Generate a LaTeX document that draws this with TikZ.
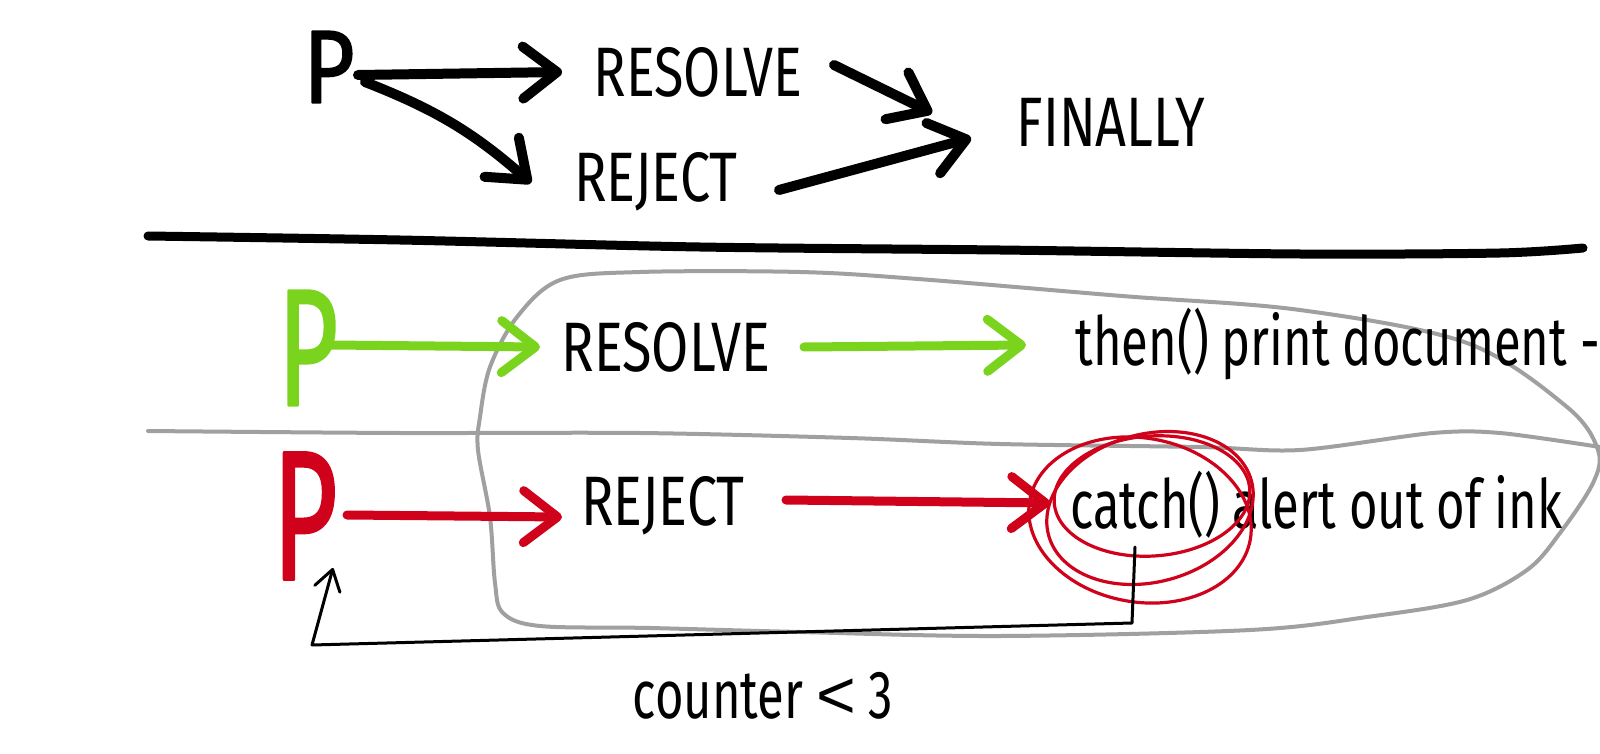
\documentclass[tikz,border=0pt]{standalone}
\usepackage{fontspec}
\setmainfont{Fira Sans}[FakeStretch=0.72]
\newfontfamily\capfont{Fira Sans}[FakeStretch=0.77]
\newfontfamily\pfont{Fira Sans}[FakeBold=1.6]
\newfontfamily\symfont{Liberation Sans}
\usetikzlibrary{arrows.meta, positioning, calc}
\definecolor{pgreen}{RGB}{122,212,30}
\definecolor{pred}{RGB}{208,2,27}
\definecolor{lasso}{RGB}{160,160,160}

\begin{document}
\begin{tikzpicture}[x=0.5pt, y=0.5pt, line cap=round, line join=round,
    lbl/.style={inner sep=0pt, font=\fontsize{34pt}{40pt}\selectfont},
    caplbl/.style={inner sep=0pt, font=\fontsize{35pt}{40pt}\selectfont\capfont},
    bigp/.style={inner sep=0pt, font=\fontsize{52pt}{56pt}\selectfont\pfont},
    inkarr/.style={line width=5pt, -{Straight Barb[length=17pt,width=26pt,round]}},
    thinarr/.style={line width=1.5pt, -{Straight Barb[length=10pt,width=13pt,round]}}]
    \useasboundingbox (0,0) rectangle (1600,-754);

    % top: promise and its outcomes
    \node[bigp] (p1) at (329,-67) {\scalebox{0.85}[1]{P}};
    \node[caplbl] (res1) at (698,-72) {RESOLVE};
    \node[caplbl] (rej1) at (656,-182) {REJECT};
    \node[caplbl] (fin) at (1111,-122) {FINALLY};

    \draw[inkarr] ([shift={(29,-8)}]p1.center) -- ([shift={(-136,0)}]res1.center);
    \draw[inkarr] ([shift={(36,-15)}]p1.center) to[bend left=10] ([shift={(-125,-1)}]rej1.center);
    \draw[inkarr] ([shift={(136,7)}]res1.center) -- ([shift={(-179,9)}]fin.center);
    \draw[inkarr] ([shift={(123,-8)}]rej1.center) -- ([shift={(-140,-16)}]fin.center);

    % divider
    \draw[line width=4.5pt] plot[smooth, tension=0.5] coordinates
      {(148,-236) (400,-240) (700,-247) (1000,-250) (1300,-254) (1500,-253) (1583,-248)};

    % lasso and row split
    \draw[lasso, line width=2pt] plot[smooth cycle, tension=0.55] coordinates
      {(560,-280) (640,-272) (800,-272) (918,-279) (1122,-296) (1300,-310)
       (1467,-343) (1567,-407) (1598,-450) (1593,-483) (1560,-533) (1527,-570)
       (1467,-600) (1367,-617) (1250,-630) (1000,-636) (800,-632) (650,-628)
       (540,-626) (503,-613) (495,-583) (490,-517) (478,-450) (480,-417)
       (490,-367) (517,-317)};
    \draw[lasso, line width=2pt] plot[smooth, tension=0.5] coordinates
      {(148,-431) (400,-433) (640,-433) (850,-438) (1000,-444) (1200,-447)
       (1300,-450) (1433,-433) (1500,-433) (1600,-447)};

    % green row
    \node[bigp, pgreen] (p2) at (308,-348) {\scalebox{1}[1.6]{P}};
    \node[caplbl] (res2) at (666,-347) {RESOLVE};
    \node[lbl, anchor=base west] (then) at (1075,-365) {then() print document -};

    \draw[inkarr, pgreen, line width=4.5pt] ([shift={(22,3)}]p2.center) -- ([shift={(-126,0)}]res2.center);
    \draw[inkarr, pgreen, line width=4.5pt] ([shift={(138,0)}]res2.center) -- ([shift={(-49,20)}]then.base west);

    % red row
    \node[bigp, pred] (p3) at (305,-516) {\scalebox{1.08}[1.77]{P}};
    \node[caplbl] (rej2) at (663,-506) {REJECT};
    \node[lbl, anchor=base west] (catch) at (1070,-528) {catch()};
    \node[lbl, anchor=base west] (alert) at ([xshift=5.6pt]catch.base east) {alert out of ink};

    \draw[inkarr, pred, line width=4.5pt] ([shift={(42,1)}]p3.center) -- ([shift={(-101,-11)}]rej2.center);
    \draw[inkarr, pred, line width=4.5pt] ([shift={(123,6)}]rej2.center) -- ([shift={(-20,25)}]catch.base west);

    % scribbled ring round catch()
    \draw[pred, line width=1.6pt] ([shift={(70,8)}]catch.base west) ellipse [x radius=112, y radius=82, rotate=-10];
    \draw[pred, line width=1.6pt] ([shift={(82,32)}]catch.base west) ellipse [x radius=98, y radius=60, rotate=4];
    \draw[pred, line width=1.6pt] ([shift={(80,20)}]catch.base west) ellipse [x radius=105, y radius=74, rotate=15];

    % retry loop
    \coordinate (loopR) at (1132,-623);
    \coordinate (loopL) at (312,-645);
    \draw[thinarr] ([shift={(65,-19)}]catch.base west) -- (loopR) -- (loopL) -- ([shift={(28,-52)}]p3.center);
    \node[lbl, anchor=base] (cnt) at (763,-718) {counter {\symfont <} 3};
\end{tikzpicture}
\end{document}
